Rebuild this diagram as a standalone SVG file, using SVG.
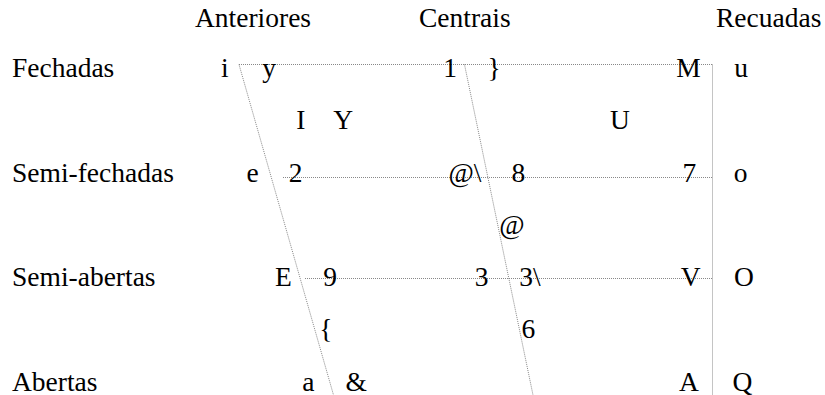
<svg xmlns="http://www.w3.org/2000/svg" width="825" height="395" viewBox="0 0 825 395">
<style>
text { font-family: "Liberation Serif", "Times New Roman", serif; font-size: 27.5px; fill: #000; }
.c { text-anchor: middle; }
.ln { stroke: #888; stroke-width: 1; stroke-dasharray: 1 1; fill: none; }
</style>
<rect width="825" height="395" fill="#fff"/>
<g id="connectors">
<line class="ln" x1="239" y1="64.5" x2="713" y2="64.5"/>
<line class="ln" x1="283" y1="177.5" x2="713" y2="177.5"/>
<line class="ln" x1="305" y1="278.5" x2="713" y2="278.5"/>
<line class="ln" x1="712.5" y1="64.5" x2="712.5" y2="395"/>
<line class="ln" x1="239" y1="64.5" x2="333.5" y2="395"/>
<line class="ln" x1="464.5" y1="64.5" x2="533" y2="395"/>
</g>
<g id="headers">
<text x="195" y="27">Anteriores</text>
<text x="419" y="27">Centrais</text>
<text x="716" y="27">Recuadas</text>
</g>
<g id="labels">
<text x="12" y="77">Fechadas</text>
<text x="12" y="181.5">Semi-fechadas</text>
<text x="12" y="286">Semi-abertas</text>
<text x="12" y="390.5">Abertas</text>
</g>
<g id="vowels">
<text class="c" x="224.8" y="77">i</text>
<text class="c" x="269" y="77">y</text>
<text class="c" x="450" y="77">1</text>
<text class="c" x="494" y="77">}</text>
<text class="c" x="688.5" y="77">M</text>
<text class="c" x="741" y="77">u</text>
<text class="c" x="300.8" y="129">I</text>
<text class="c" x="343.3" y="129">Y</text>
<text class="c" x="620" y="129">U</text>
<text class="c" x="252.5" y="181.5">e</text>
<text class="c" x="295.5" y="181.5">2</text>
<text class="c" x="465" y="181.5">@\</text>
<text class="c" x="518.3" y="181.5">8</text>
<text class="c" x="689.3" y="181.5">7</text>
<text class="c" x="740.5" y="181.5">o</text>
<text class="c" x="511.8" y="234">@</text>
<text class="c" x="283.5" y="286">E</text>
<text class="c" x="330" y="286">9</text>
<text class="c" x="481.5" y="286">3</text>
<text class="c" x="530" y="286">3\</text>
<text class="c" x="690.8" y="286">V</text>
<text class="c" x="744" y="286">O</text>
<text class="c" x="325.8" y="338">{</text>
<text class="c" x="528.3" y="338">6</text>
<text class="c" x="308.3" y="390.5">a</text>
<text class="c" x="356.3" y="390.5">&amp;</text>
<text class="c" x="689" y="390.5">A</text>
<text class="c" x="742.5" y="390.5">Q</text>
</g>
</svg>
